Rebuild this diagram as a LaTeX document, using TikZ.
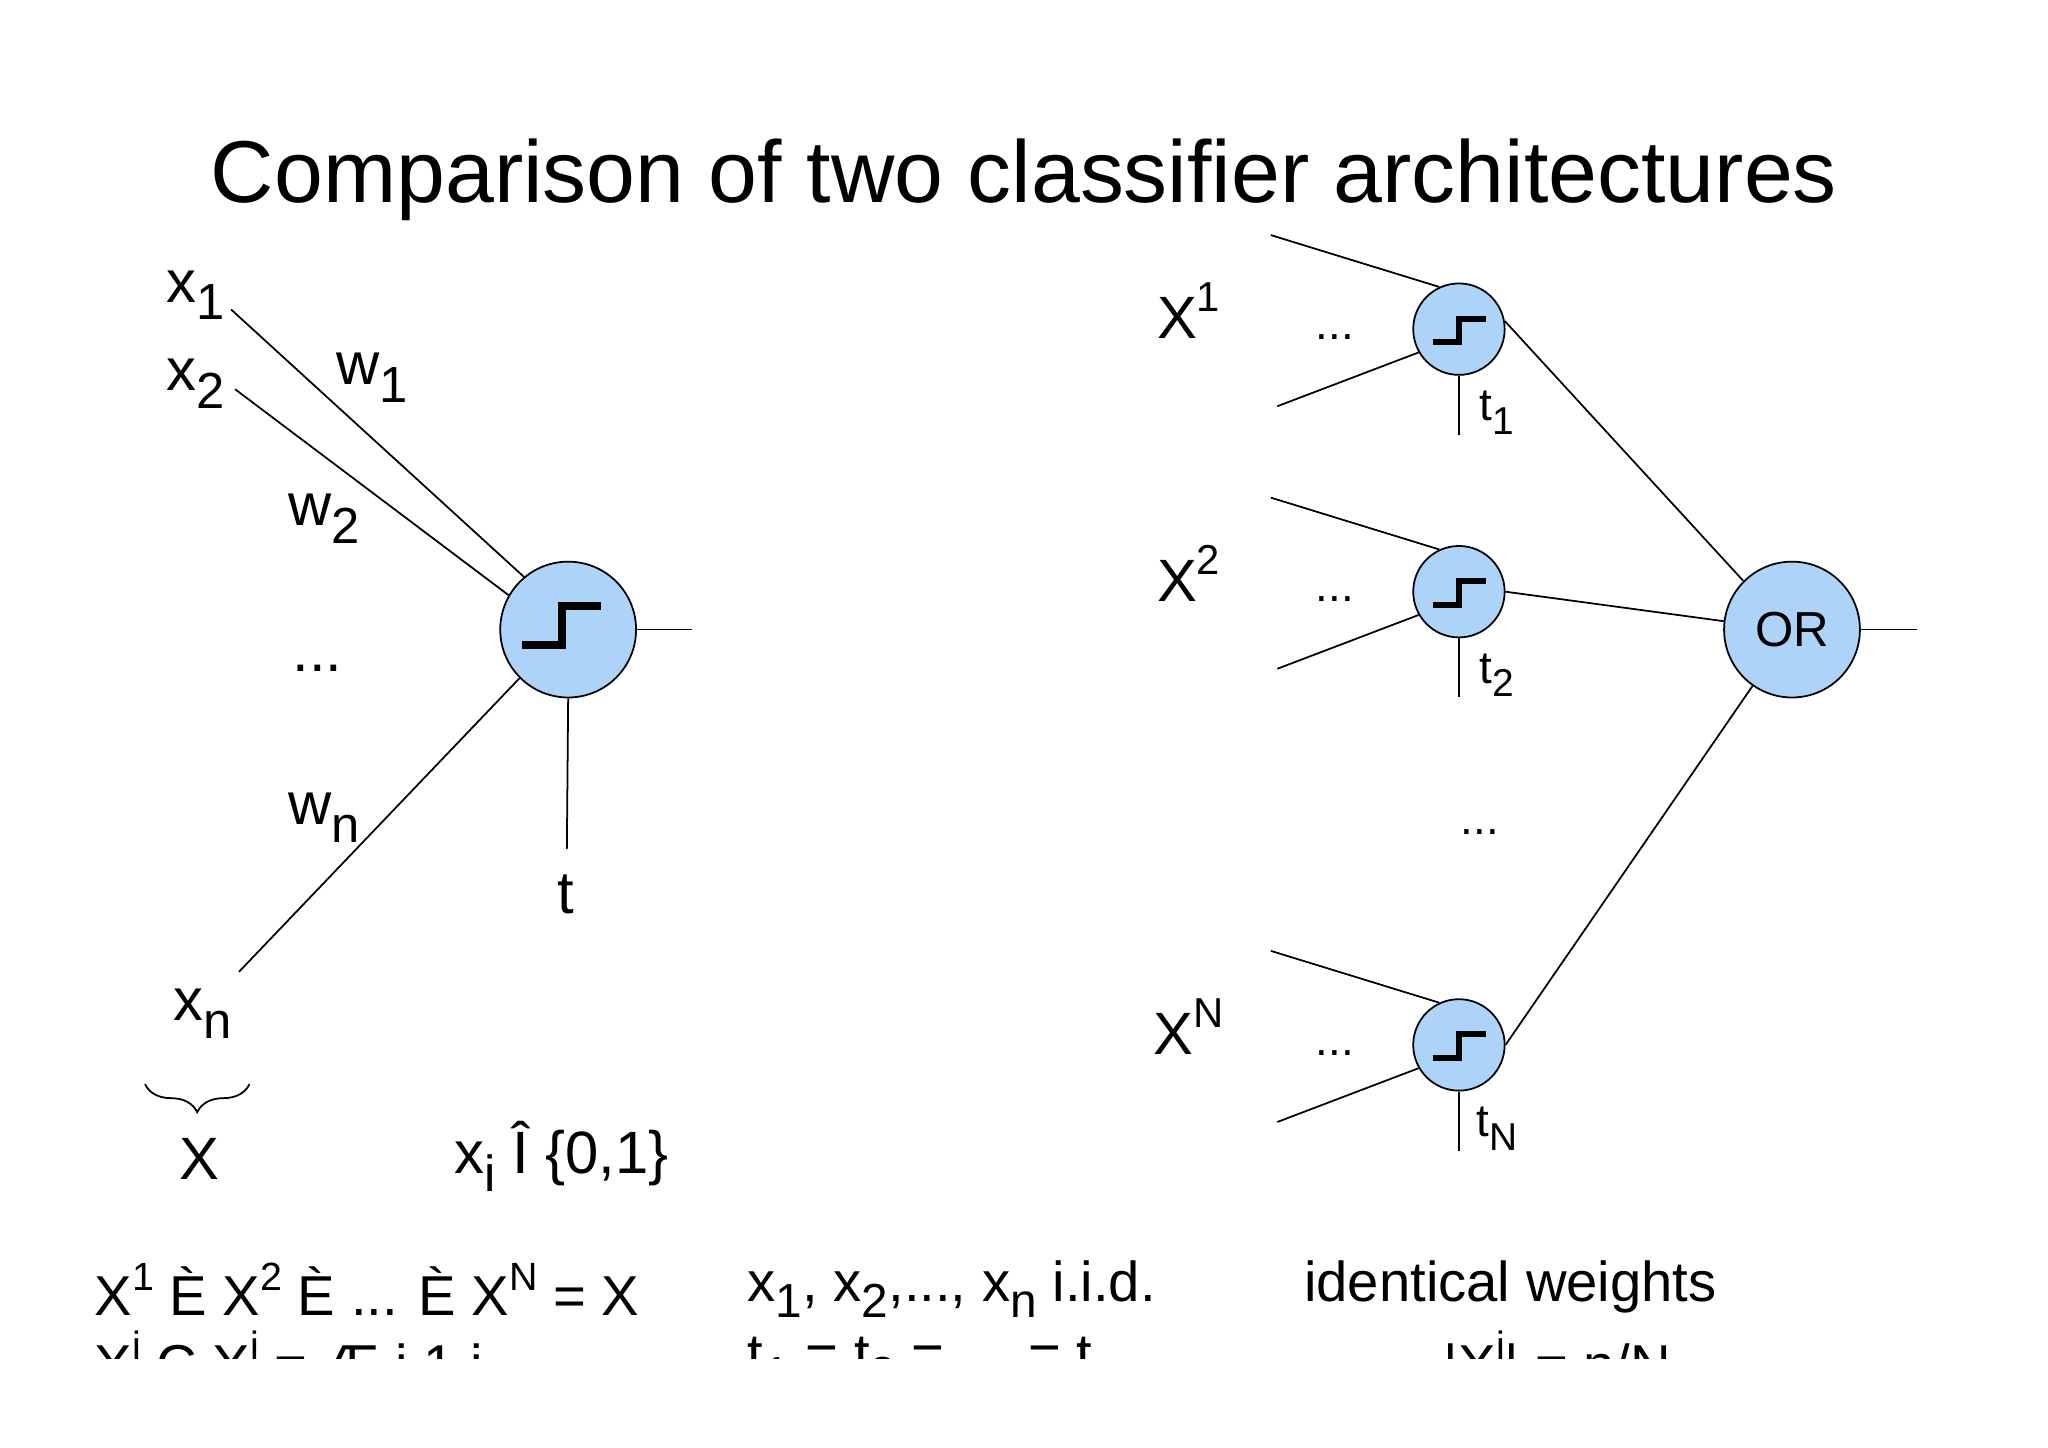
\documentclass[tikz,border=0pt]{standalone}
\usepackage{fontspec}
\setmainfont{Liberation Sans}
\usetikzlibrary{decorations.pathreplacing}
\definecolor{nfill}{HTML}{AED3F8}
\newcommand{\lo}[1]{\raisebox{-0.3em}{\scalebox{0.85}{#1}}}
\newcommand{\hi}[1]{\raisebox{0.45em}{\scalebox{0.7}{#1}}}
\begin{document}
\begin{tikzpicture}[x=0.013061cm,y=-0.013061cm,
  neuron/.style={circle,draw,fill=nfill,line width=0.5pt,inner sep=0pt},
  big/.style={neuron,minimum size=104*0.013061cm},
  small/.style={neuron,minimum size=70*0.013061cm},
  wire/.style={line width=0.5pt},
  lab/.style={font=\fontsize{17}{20}\selectfont,inner sep=0pt},
  slab/.style={font=\fontsize{13}{15}\selectfont,inner sep=0pt},
  blab/.style={font=\fontsize{16}{19}\selectfont,inner sep=0pt,anchor=west}]
\useasboundingbox (0,0) rectangle (1568,1108);
\node[font=\fontsize{25}{30}\selectfont] (title) at (784,138) {Comparison of two classifier architectures};
% left neuron
\node[big] (n) at (435,482) {};
\draw[line width=2.2pt] (400,494) -- (430,494) -- (430,464) -- (460,464);
\coordinate (c1) at (177,237); \coordinate (c2) at (180,298); \coordinate (cn) at (183,744);
\coordinate (co) at (530,482); \coordinate (ct) at (434,650);
\draw[wire] (c1) -- (n.130); \draw[wire] (c2) -- (n.150);
\draw[wire] (cn) -- (n.225); \draw[wire] (n.east) -- (co); \draw[wire] (n.south) -- (ct);
\node[lab] (lx1) at (150,226) {x\lo{1}};
\node[lab] (lx2) at (150,294) {x\lo{2}};
\node[lab] (lxn) at (155,776) {x\lo{n}};
\node[lab] (lw1) at (285,289) {w\lo{1}};
\node[lab] (lw2) at (248,397) {w\lo{2}};
\node[lab] (ldots) at (243,512) {...};
\node[lab] (lwn) at (248,626) {w\lo{n}};
\node[lab] (lt) at (433,685) {t};
\draw[wire,decorate,decoration={brace,mirror,amplitude=8pt}] (111,830) -- (191,830);
\node[lab] (lX) at (153,887) {X};
\node[lab] (lxi) at (430,885) {x\lo{i} Î \{0,1\}};
% right side
\foreach \i/\y/\s/\tl in {1/252/1/t\lo{1}, 2/453/2/t\lo{2}, 3/800/N/t\lo{N}}{
  \node[small] (s\i) at (1117,\y) {};
  \draw[line width=1.7pt] (1097,\y+10) -- (1117,\y+10) -- (1117,\y-8) -- (1138,\y-8);
  \coordinate (a\i) at (973,\y-72); \coordinate (b\i) at (978,\y+59); \coordinate (d\i) at (1117,\y+81);
  \draw[wire] (a\i) -- (s\i.115); \draw[wire] (b\i) -- (s\i.210); \draw[wire] (s\i.south) -- (d\i);
  \node[slab] (t\i) at (1146,\y+64) {\tl};
  \node[slab] (e\i) at (1022,\y+6) {...};
  \node[lab] (X\i) at (910,\y-14) {X\hi{\s}};
}
\node[slab] (vd) at (1133,637) {...};
\node[big,font=\fontsize{14}{17}\selectfont] (or) at (1372,482) {OR};
\coordinate (oo) at (1468,482);
\draw[wire] (s1.10) -- (or.135); \draw[wire] (s2.east) -- (or.173); \draw[wire] (s3.east) -- (or.235);
\draw[wire] (or.east) -- (oo);
% bottom texts
\begin{scope}
\clip (0,0) rectangle (1568,1040);
\node[blab] (b1) at (72,987) {X\hi{1} È X\hi{2} È ... È X\hi{N} = X};
\node[blab] (b2) at (572,987) {x\lo{1}, x\lo{2},..., x\lo{n} i.i.d.};
\node[blab] (b3) at (998,985) {identical weights};
\node[blab] (b4) at (72,1044) {X\hi{i} Ç X\hi{j} = Æ i 1 j};
\node[blab] (b5) at (572,1044) {t\lo{1} = t\lo{2} = ... = t};
\node[blab] (b6) at (1105,1044) {|X\hi{i}| = n/N};
\end{scope}
\end{tikzpicture}
\end{document}
